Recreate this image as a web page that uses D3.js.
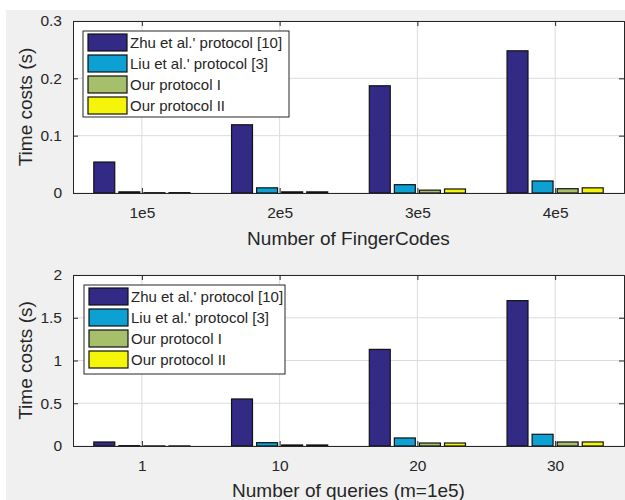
<!DOCTYPE html>
<html>
<head>
<meta charset="utf-8">
<script src="https://cdn.jsdelivr.net/npm/d3@7"></script>
<style>
  body { margin: 0; background: #fff; }
  text { font-family: "Liberation Sans", Arial, sans-serif; fill: #262626; }
</style>
</head>
<body>
<script>
// data
var series = ["Zhu et al.' protocol [10]", "Liu et al.' protocol [3]", "Our protocol I", "Our protocol II"];
var colors = ["#332a86", "#0ca0d3", "#a6bf6b", "#f5f50a"];

var topCats = ["1e5", "2e5", "3e5", "4e5"];
var topZhu  = [0.054, 0.119, 0.187, 0.248];
var topLiu  = [0.002, 0.009, 0.0145, 0.021];
var topOur1 = [0.0005, 0.002, 0.005, 0.0075];
var topOur2 = [0.0006, 0.002, 0.007, 0.009];
var topTicks = [0, 0.1, 0.2, 0.3];

var botCats = ["1", "10", "20", "30"];
var botZhu  = [0.047, 0.55, 1.13, 1.70];
var botLiu  = [0.004, 0.039, 0.094, 0.137];
var botOur1 = [0.001, 0.012, 0.035, 0.047];
var botOur2 = [0.001, 0.012, 0.035, 0.047];
var botTicks = [0, 0.5, 1, 1.5, 2];

var W = 625, H = 500;

var svg = d3.select("body").append("svg")
    .attr("width", W).attr("height", H);

// grey figure background
svg.append("rect").attr("x", 6).attr("y", 10).attr("width", W - 6).attr("height", H - 10)
    .attr("fill", "#f0f0f0");

function panel(opts) {
  var left = 73, right = 624, top = opts.top, bottom = opts.bottom;
  var x = d3.scaleLinear().domain([0.5, 4.5]).range([left, right]);
  var y = d3.scaleLinear().domain([0, opts.ymax]).range([bottom, top]);
  var g = svg.append("g");

  g.append("rect").attr("x", left).attr("y", top)
      .attr("width", right - left).attr("height", bottom - top).attr("fill", "#fff");

  // grid
  g.selectAll(".gx").data(d3.range(1, 5)).enter().append("line")
      .attr("x1", function(d) { return x(d); }).attr("x2", function(d) { return x(d); })
      .attr("y1", top).attr("y2", bottom)
      .attr("stroke", "#dcdcdc").attr("stroke-width", 1);
  g.selectAll(".gy").data(opts.ticks).enter().append("line")
      .attr("x1", left).attr("x2", right)
      .attr("y1", function(d) { return y(d); }).attr("y2", function(d) { return y(d); })
      .attr("stroke", "#dcdcdc").attr("stroke-width", 1);

  // bars
  var vals = opts.values;
  var pitch = 0.182, bw = 0.152;
  vals.forEach(function(arr, s) {
    g.selectAll(".b" + s).data(arr).enter().append("rect")
        .attr("x", function(d, i) { return x(i + 1 + (s - 1.5) * pitch - bw / 2); })
        .attr("width", x(bw) - x(0))
        .attr("y", function(d) { return y(d); })
        .attr("height", function(d) { return Math.max(0, y(0) - y(d)); })
        .attr("fill", colors[s])
        .attr("stroke", "#111").attr("stroke-width", 1.2);
  });

  // axes box with inward ticks
  var ax = d3.axisBottom(x).tickValues([1, 2, 3, 4])
      .tickFormat(function(d) { return opts.cats[d - 1]; })
      .tickSize(-5).tickPadding(14);
  var gx = g.append("g").attr("transform", "translate(0," + bottom + ")").call(ax);
  var ay = d3.axisLeft(y).tickValues(opts.ticks).tickFormat(d3.format("")).tickSize(-5).tickPadding(11);
  var gy = g.append("g").attr("transform", "translate(" + left + ",0)").call(ay);
  var ax2 = d3.axisTop(x).tickValues([1, 2, 3, 4]).tickFormat("").tickSize(-5);
  var gx2 = g.append("g").attr("transform", "translate(0," + top + ")").call(ax2);
  var ay2 = d3.axisRight(y).tickValues(opts.ticks).tickFormat("").tickSize(-5);
  var gy2 = g.append("g").attr("transform", "translate(" + right + ",0)").call(ay2);
  [gx, gy, gx2, gy2].forEach(function(a) {
    a.selectAll("path").attr("stroke", "#262626");
    a.selectAll("line").attr("stroke", "#262626");
    a.selectAll("text").style("font-size", "15.5px").attr("fill", "#262626")
        .style("font-family", "'Liberation Sans', Arial, sans-serif");
  });

  // labels
  g.append("text").attr("x", (left + right) / 2).attr("y", opts.xlabY)
      .attr("text-anchor", "middle").style("font-size", "19px").text(opts.xlabel);
  g.append("text").attr("transform", "translate(32," + (top + bottom) / 2 + ") rotate(-90)")
      .attr("text-anchor", "middle").style("font-size", "19px").text("Time costs (s)");

  // legend
  var lg = g.append("g").attr("transform", "translate(" + opts.legX + "," + opts.legY + ")");
  lg.append("rect").attr("width", opts.legW).attr("height", opts.legH)
      .attr("fill", "#fff").attr("stroke", "#262626").attr("stroke-width", 1);
  series.forEach(function(name, s) {
    lg.append("rect").attr("x", 5).attr("y", 3 + s * 21).attr("width", 39).attr("height", 17)
        .attr("fill", colors[s]).attr("stroke", "#111").attr("stroke-width", 1.2);
    lg.append("text").attr("x", 47).attr("y", 17 + s * 21)
        .style("font-size", "15px").text(name);
  });
}

panel({top: 21, bottom: 193, ymax: 0.3, ticks: topTicks, cats: topCats,
       values: [topZhu, topLiu, topOur1, topOur2],
       xlabel: "Number of FingerCodes", xlabY: 245, legX: 83, legY: 31, legW: 206, legH: 86});

panel({top: 275, bottom: 446, ymax: 2, ticks: botTicks, cats: botCats,
       values: [botZhu, botLiu, botOur1, botOur2],
       xlabel: "Number of queries (m=1e5)", xlabY: 497, legX: 84, legY: 285, legW: 201, legH: 89});
</script>
</body>
</html>
